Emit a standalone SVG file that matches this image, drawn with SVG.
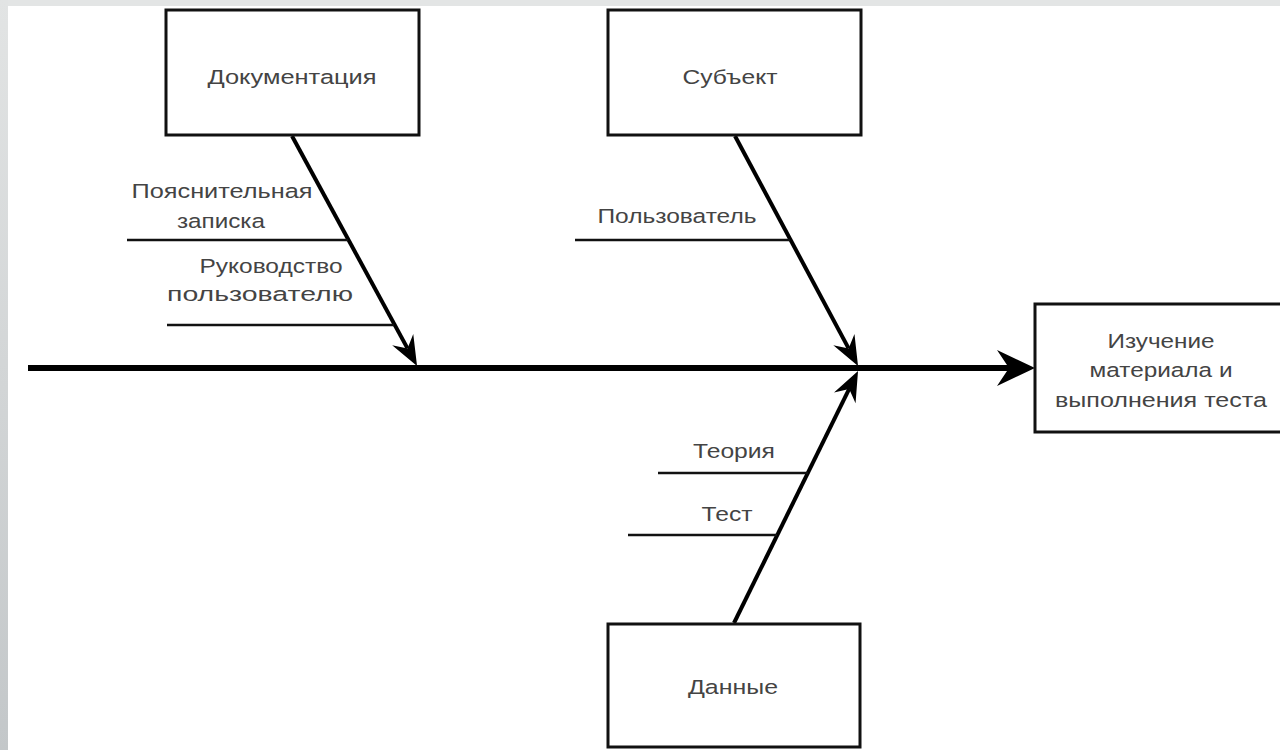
<svg xmlns="http://www.w3.org/2000/svg" width="1280" height="750" viewBox="0 0 1280 750">
<defs>
<linearGradient id="sideGrad" x1="0" y1="0" x2="0" y2="1">
<stop offset="0" stop-color="#e2e4e4"/>
<stop offset="1" stop-color="#c3c7c9"/>
</linearGradient>
<marker id="arrS" viewBox="-12 -14 34 28" markerWidth="34" markerHeight="28" refX="0" refY="0" orient="auto" markerUnits="userSpaceOnUse">
<path d="M20,0 L-10,-12 L0,0 L-10,12 Z" fill="#000"/>
</marker>
<marker id="arrL" viewBox="-14 -20 42 40" markerWidth="42" markerHeight="40" refX="0" refY="0" orient="auto" markerUnits="userSpaceOnUse">
<path d="M26,0 L-12,-18 L0,0 L-12,18 Z" fill="#000"/>
</marker>
</defs>
<style>
.box{fill:#fff;stroke:#111;stroke-width:3}
.lbl{font-family:"Liberation Sans",Arial,sans-serif;font-size:20.5px;fill:#444;text-anchor:middle}
.bone{stroke:#111;stroke-width:2.5;fill:none}
.spine{stroke:#000;stroke-width:6;fill:none}
.diag{stroke:#000;stroke-width:4;fill:none}
</style>
<rect x="0" y="0" width="1280" height="750" fill="#e3e5e5"/>
<rect x="0" y="0" width="8" height="750" fill="url(#sideGrad)"/>
<rect x="8" y="6" width="1272" height="744" fill="#fff"/>

<g id="connectors">
<line class="spine" x1="28" y1="368" x2="1009" y2="368" marker-end="url(#arrL)"/>
<line class="diag" x1="292" y1="136" x2="407.5" y2="348.4" marker-end="url(#arrS)"/>
<line class="diag" x1="735" y1="136" x2="848.6" y2="348.4" marker-end="url(#arrS)"/>
<line class="diag" x1="734" y1="623" x2="849.2" y2="388.9" marker-end="url(#arrS)"/>
<line class="bone" x1="127" y1="240" x2="348" y2="240"/>
<line class="bone" x1="167" y1="325" x2="394" y2="325"/>
<line class="bone" x1="575" y1="240" x2="790" y2="240"/>
<line class="bone" x1="658" y1="473" x2="808" y2="473"/>
<line class="bone" x1="628" y1="535" x2="777" y2="535"/>
</g>

<g id="node-doc">
<rect class="box" x="166" y="10" width="253" height="125"/>
<text class="lbl" x="292" y="84" textLength="169" lengthAdjust="spacingAndGlyphs">Документация</text>
</g>
<g id="node-subj">
<rect class="box" x="608" y="10" width="253" height="125"/>
<text class="lbl" x="730" y="84" textLength="95" lengthAdjust="spacingAndGlyphs">Субъект</text>
</g>
<g id="node-data">
<rect class="box" x="608" y="624" width="252" height="123"/>
<text class="lbl" x="733" y="694" textLength="90" lengthAdjust="spacingAndGlyphs">Данные</text>
</g>
<g id="node-result">
<rect class="box" x="1035" y="304" width="260" height="128"/>
<text class="lbl" x="1161" y="348" textLength="107" lengthAdjust="spacingAndGlyphs">Изучение</text>
<text class="lbl" x="1161" y="377" textLength="143" lengthAdjust="spacingAndGlyphs">материала и</text>
<text class="lbl" x="1161" y="407" textLength="212" lengthAdjust="spacingAndGlyphs">выполнения теста</text>
</g>

<g id="label-note">
<text class="lbl" x="222" y="198" textLength="181" lengthAdjust="spacingAndGlyphs">Пояснительная</text>
<text class="lbl" x="221" y="228" textLength="88" lengthAdjust="spacingAndGlyphs">записка</text>
</g>
<g id="label-guide">
<text class="lbl" x="271" y="273" textLength="143" lengthAdjust="spacingAndGlyphs">Руководство</text>
<text class="lbl" x="260" y="301" textLength="186" lengthAdjust="spacingAndGlyphs">пользователю</text>
</g>
<g id="label-user">
<text class="lbl" x="677" y="223" textLength="159" lengthAdjust="spacingAndGlyphs">Пользователь</text>
</g>
<g id="label-theory">
<text class="lbl" x="734" y="458" textLength="82" lengthAdjust="spacingAndGlyphs">Теория</text>
</g>
<g id="label-test">
<text class="lbl" x="727" y="521" textLength="51" lengthAdjust="spacingAndGlyphs">Тест</text>
</g>
</svg>
